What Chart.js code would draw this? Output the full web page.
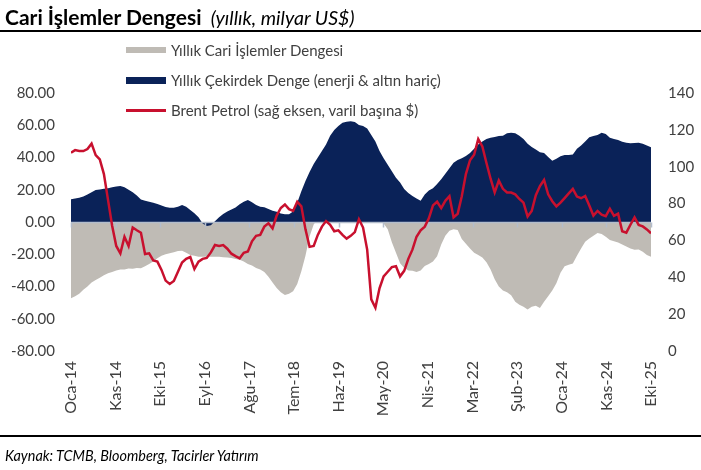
<!DOCTYPE html>
<html><head><meta charset="utf-8">
<script src="https://cdn.jsdelivr.net/npm/chart.js@4"></script>
<style>
html,body{margin:0;padding:0;background:#fff;}
#wrap{position:relative;width:701px;height:470px;overflow:hidden;font-family:Lato,"Open Sans",sans-serif;}
canvas{position:absolute;left:0;top:0;}
#title{position:absolute;left:5px;top:4px;font-size:21px;font-weight:bold;color:#000;white-space:nowrap;}
#title i{font-weight:normal;font-size:19.5px;margin-left:4px;}
#topline{position:absolute;left:0;top:30px;width:701px;height:2px;background:#000;}
#botline{position:absolute;left:0;top:435px;width:701px;height:2px;background:#000;}
#source{position:absolute;left:5px;top:447px;font-style:italic;font-size:14.4px;color:#000;white-space:nowrap;}
.sw{position:absolute;left:126px;width:40px;}
.lt{position:absolute;left:171px;font-size:15px;color:#404040;white-space:nowrap;line-height:16px;}
</style></head>
<body>
<div id="wrap">
<canvas id="c" width="701" height="470"></canvas>
<div id="title">Cari İşlemler Dengesi <i>(yıllık, milyar US$)</i></div>
<div id="topline"></div>
<div class="sw" style="top:47px;height:6px;background:#bfbbb5"></div>
<div class="lt" style="top:42px">Yıllık Cari İşlemler Dengesi</div>
<div class="sw" style="top:77px;height:7px;background:#0a2258"></div>
<div class="lt" style="top:72px">Yıllık Çekirdek Denge (enerji &amp; altın hariç)</div>
<div class="sw" style="top:109px;height:3px;background:#c8102e"></div>
<div class="lt" style="top:102px">Brent Petrol (sağ eksen, varil başına $)</div>
<div id="botline"></div>
<div id="source">Kaynak: TCMB, Bloomberg, Tacirler Yatırım</div>
</div>
<script>
// Monthly observations, Oca-14 .. Eki-25
const tickLabels = ['Oca-14','Kas-14','Eki-15','Eyl-16','Ağu-17','Tem-18','Haz-19','May-20','Nis-21','Mar-22','Şub-23','Oca-24','Kas-24','Eki-25'];

const currentAccount = [
-47.3,-46.0,-44.5,-42.0,-40.0,-37.5,-36.0,-34.5,-33.0,-31.8,
-31.0,-30.0,-29.4,-29.5,-28.8,-29.0,-28.5,-28.7,-27.5,-26.0,
-24.5,-22.5,-21.0,-20.0,-19.4,-18.8,-18.0,-17.8,-19.0,-20.5,
-21.0,-21.5,-21.5,-21.5,-21.5,-21.5,-21.5,-21.8,-22.0,-22.4,
-23.0,-23.4,-24.5,-26.0,-27.0,-28.5,-29.5,-31.0,-34.0,-37.5,
-41.0,-43.5,-45.3,-44.5,-43.0,-38.5,-30.5,-21.0,-9.0,-1.5,
2.0,4.0,5.0,6.0,6.5,7.0,7.5,8.0,8.5,8.0,
6.5,5.0,3.0,2.0,1.0,0.5,-1.0,-4.5,-12.5,-19.0,
-25.6,-28.5,-30.0,-30.2,-31.0,-30.0,-27.3,-26.0,-24.5,-21.3,
-14.0,-8.5,-5.5,-4.5,-5.0,-10.5,-13.5,-16.5,-19.0,-20.5,
-22.0,-25.0,-29.5,-35.5,-40.0,-42.5,-43.5,-45.5,-49.5,-51.3,
-52.5,-54.3,-52.5,-52.0,-53.4,-49.5,-46.0,-42.5,-38.0,-31.5,
-27.5,-26.5,-25.7,-21.0,-16.5,-12.2,-10.3,-8.6,-6.8,-7.5,
-9.2,-11.1,-12.0,-12.7,-14.0,-15.2,-16.4,-17.2,-17.0,-18.5,
-20.5,-21.5];

const coreBalance = [
14.1,14.5,15.0,15.8,17.0,18.5,19.8,20.2,20.6,21.0,
21.5,22.0,22.3,21.5,20.0,18.5,16.5,14.0,13.2,12.5,
12.0,11.2,10.3,9.3,8.9,8.9,9.5,10.5,9.5,7.5,
5.5,3.0,-1.0,-2.5,-2.0,0.5,3.0,5.0,6.5,7.8,
9.0,11.0,12.5,13.6,12.2,10.5,9.5,9.1,8.0,7.0,
6.3,5.3,4.8,4.8,6.5,12.0,19.0,25.5,31.0,36.0,
40.0,44.0,48.0,53.5,57.0,59.5,61.5,62.2,62.5,62.0,
60.2,59.5,58.0,54.0,50.0,44.0,39.5,35.5,31.5,27.5,
24.5,20.5,18.0,16.2,14.5,13.2,17.0,19.5,20.9,23.5,
26.5,30.0,33.3,36.8,38.5,39.5,41.0,42.8,45.5,48.0,
50.0,51.5,52.3,52.7,53.3,53.5,55.0,55.4,55.0,53.5,
51.5,48.5,46.5,45.0,43.2,42.8,40.3,38.0,39.3,40.8,
41.5,41.5,41.8,45.5,47.5,50.0,52.5,53.3,54.0,55.4,
54.5,52.2,51.5,50.8,49.8,49.2,48.8,49.0,49.2,48.5,
47.5,46.3];

const brent = [
107.6,109.0,108.5,108.5,109.6,112.5,106.3,104.0,96.0,82.0,
68.0,57.0,53.0,62.0,57.0,67.0,65.5,64.2,52.6,53.0,
49.2,48.5,44.0,38.2,36.4,38.0,43.0,48.0,50.0,51.0,
44.5,48.5,50.0,50.5,53.5,57.5,57.0,57.5,55.5,52.8,
51.5,50.3,53.3,54.0,59.5,62.5,63.0,67.5,69.3,66.5,
73.5,77.6,79.5,77.0,76.0,81.0,78.5,66.0,56.5,57.0,
63.0,67.5,70.5,68.5,65.0,65.5,63.0,61.0,62.5,64.5,
71.5,67.0,55.0,28.0,23.5,34.0,40.5,43.0,45.5,46.0,
40.5,43.5,50.0,55.0,62.0,65.5,67.5,72.0,79.0,81.0,
77.5,81.5,84.0,72.5,74.5,84.0,96.0,103.5,106.5,115.0,
111.0,102.0,93.5,86.0,92.5,88.0,86.0,86.0,85.0,82.5,
80.5,73.0,76.0,84.5,89.5,92.8,85.0,81.3,78.5,80.5,
83.0,85.5,88.0,83.8,82.9,84.1,79.0,73.5,76.0,74.0,
73.2,77.2,73.3,74.5,65.0,64.2,68.5,72.5,68.4,67.6,
66.0,63.9];

const lastIndex = currentAccount.length - 1;
const pts = arr => arr.map((v, i) => ({x: i, y: v}));

const zeroLine = {
  id: 'zeroLine',
  beforeDatasetDraw(chart, args) {
    if (args.index !== 2) return;
    const {ctx, chartArea: a, scales: {x, y}} = chart;
    const y0 = Math.round(y.getPixelForValue(0)) + 0.5;
    ctx.save();
    ctx.strokeStyle = '#b3bdcc';
    ctx.lineWidth = 1.5;
    ctx.beginPath();
    ctx.moveTo(a.left, y0); ctx.lineTo(a.right, y0);
    x.ticks.forEach(t => {
      const px = Math.round(x.getPixelForValue(t.value)) + 0.5;
      ctx.moveTo(px, y0); ctx.lineTo(px, y0 + 5);
    });
    ctx.stroke();
    ctx.restore();
  }
};

const tickFont = {family: 'Lato', size: 15};
const noGrid = {display: false, drawTicks: false};
new Chart(document.getElementById('c'), {
  type: 'line',
  data: {
    datasets: [
      {label: 'Yıllık Cari İşlemler Dengesi', data: pts(currentAccount), yAxisID: 'y',
       fill: 'origin', backgroundColor: '#bfbbb5', borderWidth: 0, pointRadius: 0, tension: 0, order: 3},
      {label: 'Yıllık Çekirdek Denge (enerji & altın hariç)', data: pts(coreBalance), yAxisID: 'y',
       fill: 'origin', backgroundColor: '#0a2258', borderWidth: 0, pointRadius: 0, tension: 0, order: 2},
      {label: 'Brent Petrol (sağ eksen, varil başına $)', data: pts(brent), yAxisID: 'y2',
       fill: false, borderColor: '#c8102e', borderWidth: 2.5, pointRadius: 0, tension: 0, order: 1}
    ]
  },
  options: {
    responsive: false, animation: false, devicePixelRatio: 1,
    layout: {padding: {top: 93, left: 0, right: 0, bottom: 0}},
    plugins: {legend: {display: false}, tooltip: {enabled: false}},
    scales: {
      x: {type: 'linear', min: 0, max: lastIndex,
          grid: noGrid, border: {display: false},
          afterBuildTicks: s => { s.ticks = tickLabels.map((_, k) => ({value: k * lastIndex / (tickLabels.length - 1)})); },
          afterFit: s => { s.height = 119; },
          ticks: {autoSkip: false, minRotation: 90, maxRotation: 90, padding: 10, color: '#404040', font: {family: 'Lato', size: 16},
                  callback: (v, i) => tickLabels[i]}},
      y: {position: 'left', min: -80, max: 80,
          grid: noGrid, border: {display: false},
          afterFit: s => { s.width = 71; },
          ticks: {stepSize: 20, padding: 16, color: '#404040', font: tickFont, callback: v => v.toFixed(2)}},
      y2: {position: 'right', min: 0, max: 140,
          grid: noGrid, border: {display: false},
          afterFit: s => { s.width = 50; },
          ticks: {stepSize: 20, padding: 17, color: '#404040', font: tickFont}}
    }
  },
  plugins: [zeroLine]
});
</script>
</body></html>
